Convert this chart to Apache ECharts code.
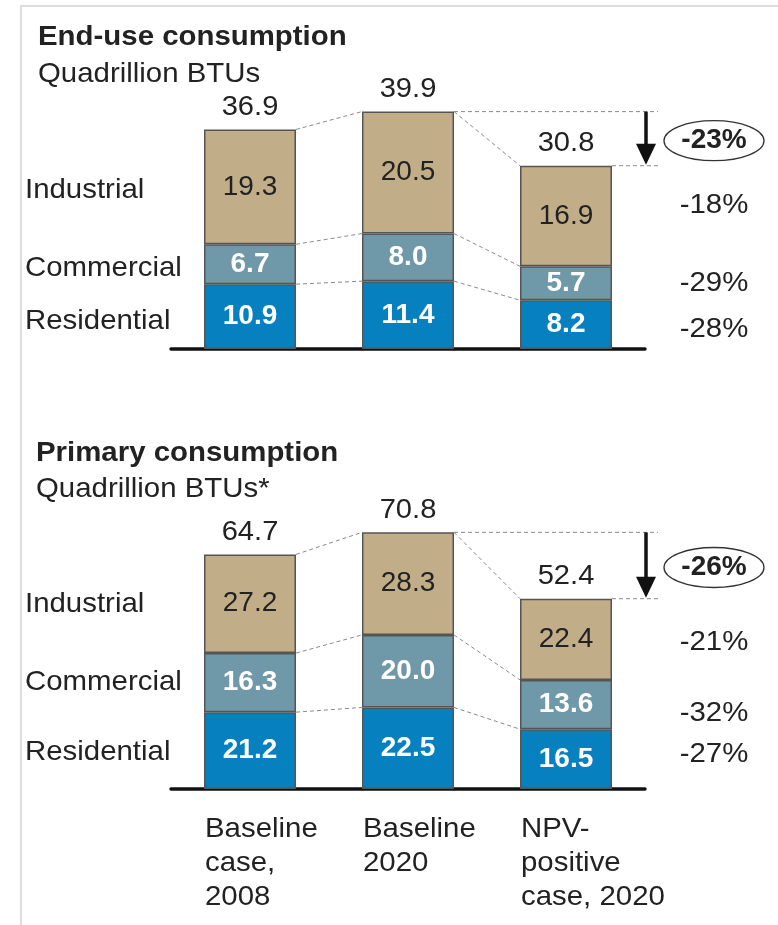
<!DOCTYPE html>
<html>
<head>
<meta charset="utf-8">
<script src="https://cdn.jsdelivr.net/npm/echarts@6/dist/echarts.min.js"></script>
<style>
  html, body { margin: 0; padding: 0; background: #fff; }
  #chart { width: 778px; height: 925px; }
</style>
</head>
<body>
<div id="chart"></div>
<script>
const categories = ["Baseline\ncase,\n2008", "Baseline\n2020", "NPV-\npositive\ncase, 2020"];
const sectors = ["Residential", "Commercial", "Industrial"];

// End-use consumption
const endResidential = [10.9, 11.4, 8.2];
const endCommercial = [6.7, 8.0, 5.7];
const endIndustrial = [19.3, 20.5, 16.9];
const endTotals = [36.9, 39.9, 30.8];
const endChanges = ["-28%", "-29%", "-18%"]; // residential, commercial, industrial
const endTotalChange = "-23%";

// Primary consumption
const primResidential = [21.2, 22.5, 16.5];
const primCommercial = [16.3, 20.0, 13.6];
const primIndustrial = [27.2, 28.3, 22.4];
const primTotals = [64.7, 70.8, 52.4];
const primChanges = ["-27%", "-32%", "-21%"];
const primTotalChange = "-26%";

const FONT = "'Liberation Sans', Arial, Helvetica, sans-serif";
const BAR_W = 92;
const colors = { res: "#0780bf", com: "#6f98a8", ind: "#c2ad89" };

function barSeries(name, data, color, stack, idx, dark) {
  return {
    name: name,
    type: "bar",
    stack: stack,
    xAxisIndex: idx,
    yAxisIndex: idx,
    barWidth: BAR_W,
    data: data,
    itemStyle: { color: color, borderColor: "#555", borderWidth: 1.5 },
    label: {
      show: true,
      position: "inside",
      fontFamily: FONT,
      fontSize: 28,
      fontWeight: dark ? "normal" : "bold",
      color: dark ? "#222" : "#fff",
      formatter: (p) => p.value.toFixed(1),
    },
    silent: true,
  };
}

// nudges: small vertical shifts for the side labels (left names, right changes)
function makeNotes(res, com, ind, totals, changes, totalChange, showCats, nudgeL, nudgeR) {
  return function (params, api) {
    const hw = BAR_W / 2;
    const lvl2 = res.map((v, i) => v + com[i]);
    const lvl3 = lvl2.map((v, i) => v + ind[i]);
    const levels = [res, lvl2, lvl3];
    const pt = (i, v) => api.coord([i, v]);
    const kids = [];
    const dash = { stroke: "#8a8a8a", lineWidth: 1, lineDash: [4, 3] };
    const txt = (x, y, text, o, sx) => ({
      type: "text",
      x: x,
      y: y,
      scaleX: sx || 1,
      style: Object.assign({
        text: text, fill: "#222", fontFamily: FONT, fontSize: 28,
        align: "center", verticalAlign: "middle",
      }, o || {}),
    });

    // connectors between bars
    levels.forEach((lv) => {
      for (let i = 0; i < 2; i++) {
        const a = pt(i, lv[i]);
        const b = pt(i + 1, lv[i + 1]);
        kids.push({ type: "line", shape: { x1: a[0] + hw, y1: a[1], x2: b[0] - hw, y2: b[1] }, style: dash });
      }
    });

    // totals above bars
    totals.forEach((t, i) => {
      const p = pt(i, lvl3[i]);
      kids.push(txt(p[0], p[1] - 22, t.toFixed(1), null, 1.04));
    });

    // arrow + reference lines
    const top1 = pt(1, lvl3[1]);
    const top2 = pt(2, lvl3[2]);
    const ax = top2[0] + 80;
    kids.push({ type: "line", shape: { x1: top1[0] + hw, y1: top1[1], x2: ax + 12, y2: top1[1] }, style: dash });
    kids.push({ type: "line", shape: { x1: top2[0] + hw, y1: top2[1], x2: ax + 12, y2: top2[1] }, style: dash });
    kids.push({ type: "line", shape: { x1: ax, y1: top1[1], x2: ax, y2: top2[1] - 18 }, style: { stroke: "#111", lineWidth: 3.5 } });
    kids.push({ type: "polygon", shape: { points: [[ax - 10, top2[1] - 22], [ax + 10, top2[1] - 22], [ax, top2[1] - 1]] }, style: { fill: "#111" } });

    const cx = top2[0] + 148;
    const cy = (top1[1] + top2[1]) / 2 + 2;
    kids.push({ type: "ellipse", shape: { cx: cx, cy: cy, rx: 50, ry: 20 }, style: { fill: "#fff", stroke: "#333", lineWidth: 1.3 } });
    kids.push(txt(cx, cy, totalChange, { fontWeight: "bold" }));

    // sector changes and left sector names
    for (let k = 0; k < 3; k++) {
      const lo = k === 0 ? 0 : levels[k - 1][2];
      const pr = pt(2, (lo + levels[k][2]) / 2);
      kids.push(txt(cx, pr[1] + nudgeR[k], changes[k], null, 1.05));
      const lo0 = k === 0 ? 0 : levels[k - 1][0];
      const pl = pt(0, (lo0 + levels[k][0]) / 2);
      kids.push(txt(25, pl[1] + nudgeL[k], sectors[k], { align: "left" }, 1.05));
    }

    if (showCats) {
      categories.forEach((c, i) => {
        const p = pt(i, 0);
        kids.push(txt(p[0] - hw + 1, p[1] + 23, c, { align: "left", verticalAlign: "top", lineHeight: 34 }, 1.05));
      });
    }
    return { type: "group", children: kids };
  };
}

const chart = echarts.init(document.getElementById("chart"));
const axisX = (idx) => ({
  type: "category",
  gridIndex: idx,
  data: categories,
  axisLine: { lineStyle: { color: "#111", width: 3.5 } },
  axisTick: { show: false },
  axisLabel: { show: false },
});
const title = (x, y, text, bold) => ({
  type: "text", x: x, y: y, scaleX: 1.05,
  style: { text: text, fontFamily: FONT, fontSize: 28, fontWeight: bold ? "bold" : "normal", fill: "#222", verticalAlign: "middle" },
});

chart.setOption({
  animation: false,
  backgroundColor: "#fff",
  grid: [
    { left: 171, width: 474, top: 111, height: 238 },
    { left: 171, width: 474, top: 528, height: 261 },
  ],
  xAxis: [axisX(0), axisX(1)],
  yAxis: [
    { type: "value", gridIndex: 0, min: 0, max: 40, show: false, splitLine: { show: false } },
    { type: "value", gridIndex: 1, min: 0, max: 72, show: false, splitLine: { show: false } },
  ],
  graphic: [
    { type: "rect", shape: { x: 21, y: 6, width: 820, height: 1000 }, style: { fill: "none", stroke: "#ddd", lineWidth: 2 }, silent: true },
    title(38, 37, "End-use consumption", true),
    title(38, 74, "Quadrillion BTUs", false),
    title(36, 453, "Primary consumption", true),
    title(36, 489, "Quadrillion BTUs*", false),
  ],
  series: [
    barSeries("Residential", endResidential, colors.res, "end", 0, false),
    barSeries("Commercial", endCommercial, colors.com, "end", 0, false),
    barSeries("Industrial", endIndustrial, colors.ind, "end", 0, true),
    barSeries("Residential", primResidential, colors.res, "prim", 1, false),
    barSeries("Commercial", primCommercial, colors.com, "prim", 1, false),
    barSeries("Industrial", primIndustrial, colors.ind, "prim", 1, true),
    {
      type: "custom", xAxisIndex: 0, yAxisIndex: 0, data: [[0, 0]], silent: true, z: 5,
      renderItem: makeNotes(endResidential, endCommercial, endIndustrial, endTotals, endChanges, endTotalChange, false,
        [5, 4, 3], [5, 0, -11]),
    },
    {
      type: "custom", xAxisIndex: 1, yAxisIndex: 1, data: [[0, 0]], silent: true, z: 5,
      renderItem: makeNotes(primResidential, primCommercial, primIndustrial, primTotals, primChanges, primTotalChange, true,
        [2, 0, 1], [-5, 9, 3]),
    },
  ],
});
</script>
</body>
</html>
